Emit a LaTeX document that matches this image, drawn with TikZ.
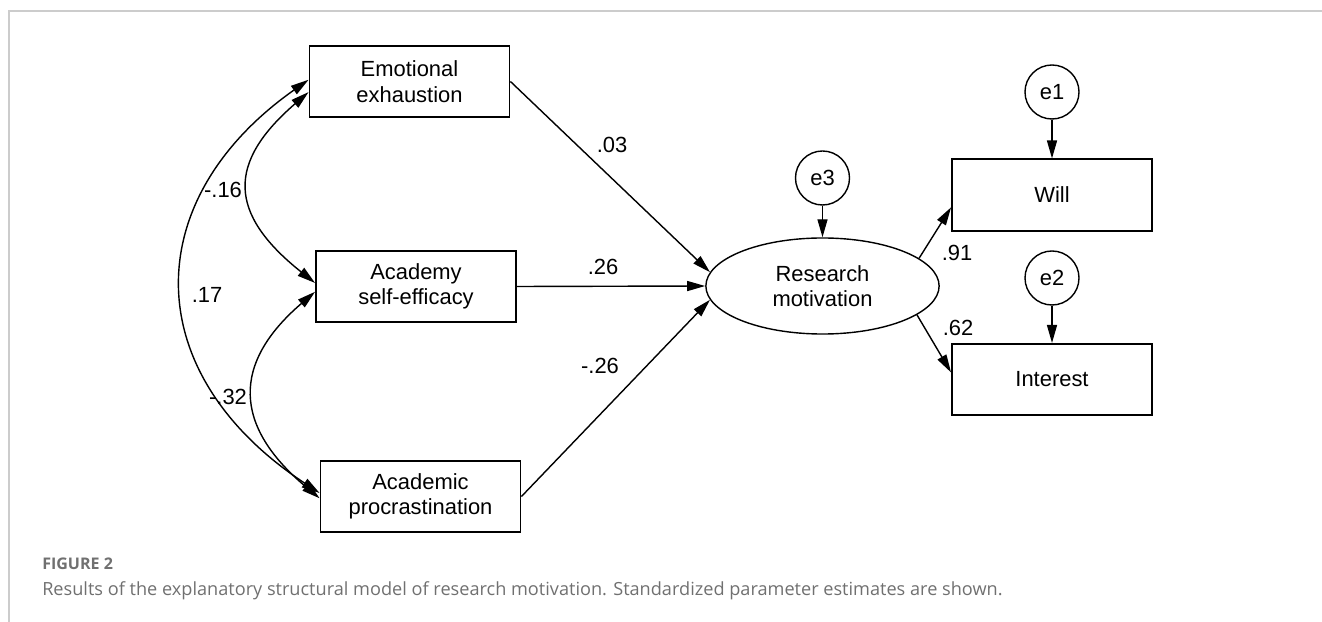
\documentclass[tikz,border=0pt]{standalone}
\usepackage{fontspec}
\setmainfont{Liberation Sans}
\newfontfamily\capfont{Open Sans}
\usetikzlibrary{arrows.meta,shapes.geometric}
\definecolor{framegray}{RGB}{204,204,204}
\definecolor{capgray}{RGB}{112,112,112}
\begin{document}
\begin{tikzpicture}[x=0.025cm,y=-0.025cm,
    font=\fontsize{15.6}{18.2}\selectfont,
    obs/.style={draw,line width=1.3pt,minimum width=5cm,minimum height=1.78cm,align=center,inner sep=0pt},
    errc/.style={draw,circle,line width=1pt,minimum size=1.35cm,inner sep=0pt},
    latent/.style={draw,ellipse,line width=1pt,minimum width=5.83cm,minimum height=2.4cm,inner sep=0pt,align=center},
    arr/.style={-{Triangle[length=0.45cm,width=0.25cm]},line width=1pt},
    cov/.style={{Triangle[length=0.45cm,width=0.25cm]}-{Triangle[length=0.45cm,width=0.25cm]},line width=1pt},
    coef/.style={inner sep=0pt}]
    \useasboundingbox (0,0) rectangle (1322,622);
    %frame
    \draw[framegray,line width=1.1pt] (9,622) -- (9,11) -- (1322,11);
    %predictors
    \node[obs] (ee) at (409.5,81.5) {Emotional\\exhaustion};
    \node[obs] (ase) at (416,286.5) {Academy\\self-efficacy};
    \node[obs] (ap) at (420.5,496.5) {Academic\\procrastination};
    %outcome
    \node[latent] (rm) at (822.5,286) {Research\\motivation};
    \node[errc] (e3) at (822.5,178) {e3};
    \node[obs] (will) at (1052,195) {Will};
    \node[obs] (int) at (1052,379.5) {Interest};
    \node[errc] (e1) at (1052,92) {e1};
    \node[errc] (e2) at (1052,278) {e2};
    %paths
    \draw[arr] (ee.east) -- (rm.173);
    \draw[arr] (ase.east) -- (rm.west);
    \draw[arr] (ap.east) -- (rm.187);
    \draw[arr] (rm.16) -- (will.187);
    \draw[arr] (rm.343) -- (int.176);
    \draw[arr] (e3) -- (rm);
    \draw[arr] (e1) -- (will);
    \draw[arr] (e2) -- (int);
    %covariances
    \draw[cov] (ee.186) .. controls +(-81,70) and +(-88,-70) .. (ase.178);
    \draw[cov] (ase.183) .. controls +(-84,72) and +(-86,-72) .. (ap.181);
    \draw[cov] (ee.179) .. controls +(-170,120) and +(-182,-120) .. (ap.178);
    %estimates
    \node[coef] (c1) at (223,190) {-.16};
    \node[coef] (c2) at (207,295) {.17};
    \node[coef] (c3) at (228,397) {-.32};
    \node[coef] (c4) at (612,145) {.03};
    \node[coef] (c5) at (603,267) {.26};
    \node[coef] (c6) at (600,366) {-.26};
    \node[coef] (c7) at (957,253) {.91};
    \node[coef] (c8) at (958,328) {.62};
    %caption
    \node[coef,anchor=base west,text=capgray,font=\capfont\fontsize{11.4}{13}\selectfont\bfseries] (fig) at (42,569) {FIGURE 2};
    \node[coef,anchor=base west,text=capgray,font=\capfont\fontsize{12.9}{15}\selectfont] (cap) at (42,595) {Results of the explanatory structural model of research motivation. Standardized parameter estimates are shown.};
\end{tikzpicture}
\end{document}
